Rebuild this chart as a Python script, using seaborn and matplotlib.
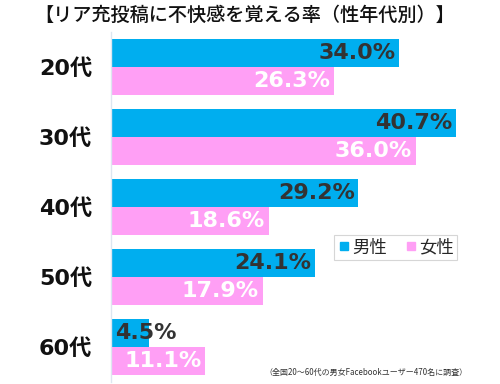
import pandas as pd
import seaborn as sns
import matplotlib.pyplot as plt
from matplotlib.lines import Line2D

ages = ["20代", "30代", "40代", "50代", "60代"]
male = [34.0, 40.7, 29.2, 24.1, 4.5]
female = [26.3, 36.0, 18.6, 17.9, 11.1]
sexes = ["男性", "女性"]
colors = ["#00aeef", "#ff9ff5"]

df = pd.DataFrame({
    "age": ages * 2,
    "sex": [sexes[0]] * len(ages) + [sexes[1]] * len(ages),
    "rate": male + female,
})

sns.set_style("white")
plt.rcParams["font.family"] = ["DejaVu Sans", "Noto Sans CJK JP"]

fig = plt.figure(figsize=(5, 3.84), dpi=100)
ax = fig.add_axes([111 / 500, 2 / 384, 389 / 500, 350 / 384])

sns.barplot(data=df, y="age", x="rate", hue="sex", order=ages, hue_order=sexes,
            palette=colors, saturation=1, orient="h", width=0.8, linewidth=0,
            ax=ax, legend=False)

ax.set_xlim(0, 45.9)
ax.set_ylim(4.5, -0.5)
ax.set_xlabel("")
ax.set_ylabel("")
ax.set_xticks([])
ax.tick_params(axis="y", length=0, pad=13.5)
for lab in ax.get_yticklabels():
    lab.set_fontsize(16)
    lab.set_fontweight("bold")
    lab.set_color("#111111")
for s in ["top", "right", "bottom"]:
    ax.spines[s].set_visible(False)
ax.spines["left"].set_color("#dde6f0")
ax.spines["left"].set_linewidth(1)

# value labels
for i, (m, f) in enumerate(zip(male, female)):
    if m < 8:
        ax.text(0.5, i - 0.2, f"{m:.1f}%", ha="left", va="center",
                fontsize=16, fontweight="bold", color="#333333")
    else:
        ax.text(m - 0.45, i - 0.2, f"{m:.1f}%", ha="right", va="center",
                fontsize=16, fontweight="bold", color="#333333")
    ax.text(f - 0.45, i + 0.2, f"{f:.1f}%", ha="right", va="center",
            fontsize=16, fontweight="bold", color="white")

handles = [Line2D([], [], marker="s", linestyle="", color=c, markersize=5.5) for c in colors]
leg = ax.legend(handles, sexes, loc="upper left", bbox_to_anchor=(223 / 389, 1 - 203 / 350),
                ncol=2, frameon=True, fancybox=False, borderaxespad=0,
                handletextpad=0.05, columnspacing=1.0, handlelength=0.8, borderpad=0.2,
                prop={"family": ["Noto Sans CJK JP"], "size": 12.5})
leg.get_frame().set_edgecolor("#cccccc")
leg.get_frame().set_linewidth(0.8)

fig.text(0.49, 0.962, "【リア充投稿に不快感を覚える率（性年代別）】", ha="center", va="center",
         fontsize=13.8, family=["Noto Sans CJK JP"], fontweight="medium", color="#111111")
fig.text(0.936, 0.029, "（全国20～60代の男女Facebookユーザー470名に調査）", ha="right", va="center",
         fontsize=5.75, family=["Noto Sans CJK JP"], color="#333333")

fig.savefig("out.png", dpi=100)
